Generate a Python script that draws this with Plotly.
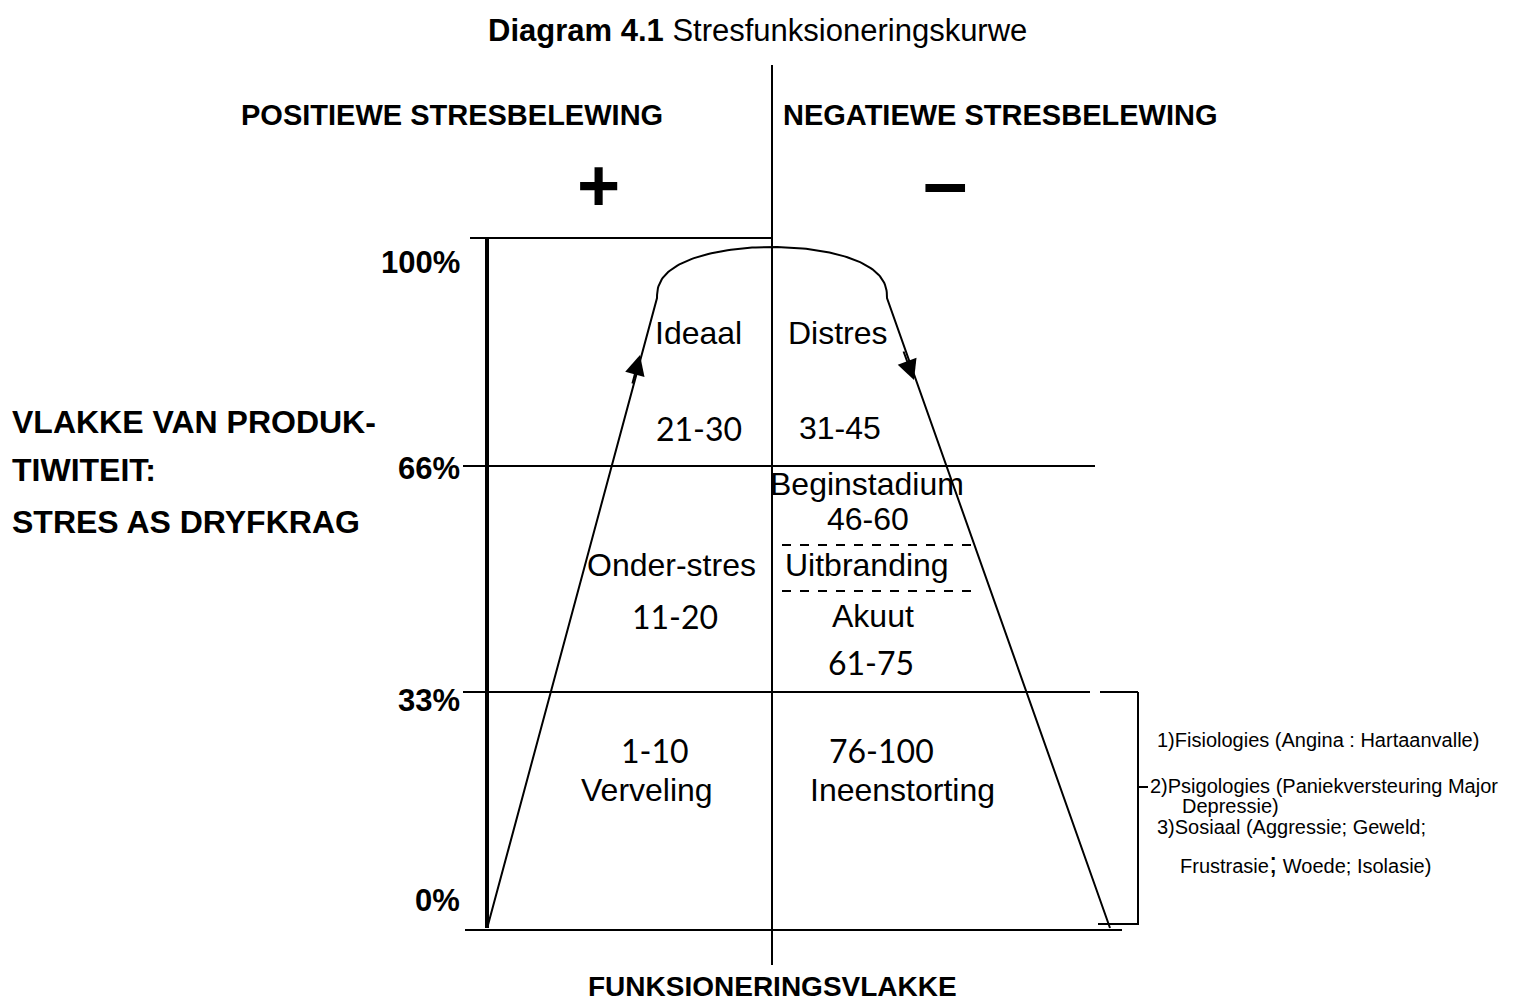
import numpy as np
import plotly.graph_objects as go

# ---- data / text content ----
level_labels = ["100%", "66%", "33%", "0%"]
left_labels = ["VLAKKE VAN PRODUK-", "TIWITEIT:", "STRES AS DRYFKRAG"]
side_headers = ["POSITIEWE STRESBELEWING", "NEGATIEWE STRESBELEWING"]
side_signs = ["+", "\u2013"]
pos_zone_words = ["Ideaal", "Onder-stres", "Verveling"]
pos_zone_ranges = ["21-30", "11-20", "1-10"]
neg_zone_words = ["Distres", "Beginstadium", "Uitbranding", "Akuut", "Ineenstorting"]
neg_zone_ranges = ["31-45", "46-60", "61-75", "76-100"]
consequences = [
    "1)Fisiologies (Angina : Hartaanvalle)",
    "2)Psigologies (Paniekversteuring Major",
    "Depressie)",
    "3)Sosiaal (Aggressie; Geweld;",
    "Frustrasie<span style='font-size:30px'>;</span> Woede; Isolasie)",
]
x_title = "FUNKSIONERINGSVLAKKE"

# ---- layout geometry (canvas units) ----
FONT = "Liberation Sans, Arial, sans-serif"
NUMF = "Lato, Liberation Sans, sans-serif"
CX = 772
Y_LEVEL = {"100%": 238, "66%": 466, "33%": 692, "0%": 928}
PAGE_OFF = 8  # default page margin of the html body

fig = go.Figure()

def line(x0, y0, x1, y1, w=2, dash=None):
    fig.add_shape(type="line", x0=x0, y0=y0, x1=x1, y1=y1, xref="x", yref="y",
                  line=dict(color="black", width=w, dash=dash))

def text(x, y, s, size=26, bold=False, anchor="center", fam=FONT):
    if bold:
        s = "<b>" + s + "</b>"
    fig.add_annotation(x=x, y=y, text=s, showarrow=False, xref="x", yref="y",
                       xanchor=anchor, yanchor="middle",
                       font=dict(family=fam, size=size, color="black"))

# central divider
line(CX, 65, CX, 965)
# top line
line(470, Y_LEVEL["100%"], CX, Y_LEVEL["100%"])
# left axis (thick)
line(487, Y_LEVEL["100%"], 487, Y_LEVEL["0%"], w=4)
# level lines
line(463, Y_LEVEL["66%"], 1095, Y_LEVEL["66%"])
line(463, Y_LEVEL["33%"], 1090, Y_LEVEL["33%"])
line(465, Y_LEVEL["0%"] + 2, 1122, Y_LEVEL["0%"] + 2)
# dashed sub-bands
line(782, 545, 980, 545, w=2, dash="dash")
line(782, 591, 980, 591, w=2, dash="dash")
# bracket
line(1100, 692, 1138, 692)
line(1138, 692, 1138, 925)
line(1098, 924, 1138, 924)
line(1138, 787, 1148, 787)

# curve: left rising line, rounded top, right falling line
t = np.linspace(np.pi, 0, 100)
ax_, bx_ = 115, 51
arc_x = CX + ax_ * np.cos(t)
arc_y = 298 - bx_ * np.abs(np.sin(t)) ** 0.8
cx = np.concatenate([[488], arc_x, [1110]])
cy = np.concatenate([[925], arc_y, [928]])
fig.add_trace(go.Scatter(x=cx, y=cy, mode="lines", line=dict(color="black", width=2),
                         hoverinfo="skip", showlegend=False))

# arrows
fig.add_annotation(x=640, y=355, ax=632, ay=385, xref="x", yref="y", axref="x", ayref="y",
                   text="", showarrow=True, arrowhead=2, arrowsize=2, arrowwidth=2,
                   arrowcolor="black")
fig.add_annotation(x=914, y=380, ax=903, ay=350, xref="x", yref="y", axref="x", ayref="y",
                   text="", showarrow=True, arrowhead=2, arrowsize=2, arrowwidth=2,
                   arrowcolor="black")

# title
fig.add_annotation(x=757, y=30, xref="x", yref="y", showarrow=False,
                   text="<b>Diagram 4.1</b> Stresfunksioneringskurwe",
                   font=dict(family=FONT, size=31, color="black"))

# headers and signs
text(452, 115, side_headers[0], size=29, bold=True)
text(1000, 115, side_headers[1], size=29, bold=True)
text(598, 185, side_signs[0], size=74, bold=True)
text(945, 181, side_signs[1], size=80, bold=True)

# level labels
lvl_pos = {"100%": 262, "66%": 468, "33%": 700, "0%": 900}
for lab in level_labels:
    text(462, lvl_pos[lab], lab, size=31, bold=True, anchor="right")

# left labels
for s, y in zip(left_labels, [422, 470, 522]):
    text(10, y, s, size=32, bold=True, anchor="left")

# positive zone
text(698, 333, pos_zone_words[0], size=32)
text(699, 428, pos_zone_ranges[0], size=32, fam=NUMF)
text(671, 565, pos_zone_words[1], size=32)
text(675, 616, pos_zone_ranges[1], size=32, fam=NUMF)
text(655, 750, pos_zone_ranges[2], size=32, fam=NUMF)
text(647, 790, pos_zone_words[2], size=32)

# negative zone
text(838, 333, neg_zone_words[0], size=32)
text(840, 428, neg_zone_ranges[0], size=32)
text(867, 484, neg_zone_words[1], size=32)
text(868, 519, neg_zone_ranges[1], size=32)
text(867, 565, neg_zone_words[2], size=32)
text(873, 616, neg_zone_words[3], size=32)
text(871, 662, neg_zone_ranges[2], size=32, fam=NUMF)
text(881, 750, neg_zone_ranges[3], size=32, fam=NUMF)
text(902, 790, neg_zone_words[4], size=32)

# consequences
for s, x, y in zip(consequences, [1155, 1148, 1180, 1155, 1178], [740, 786, 806, 827, 862]):
    text(x, y, s, size=20, anchor="left")

# x title
text(772, 986, x_title, size=28, bold=True)

fig.update_layout(
    width=1530 - PAGE_OFF, height=1003 - PAGE_OFF,
    margin=dict(l=0, r=0, t=0, b=0),
    paper_bgcolor="white", plot_bgcolor="white",
    xaxis=dict(range=[PAGE_OFF, 1530], visible=False, fixedrange=True),
    yaxis=dict(range=[1003, PAGE_OFF], visible=False, fixedrange=True),
    showlegend=False,
)
fig.write_html("out.html")
